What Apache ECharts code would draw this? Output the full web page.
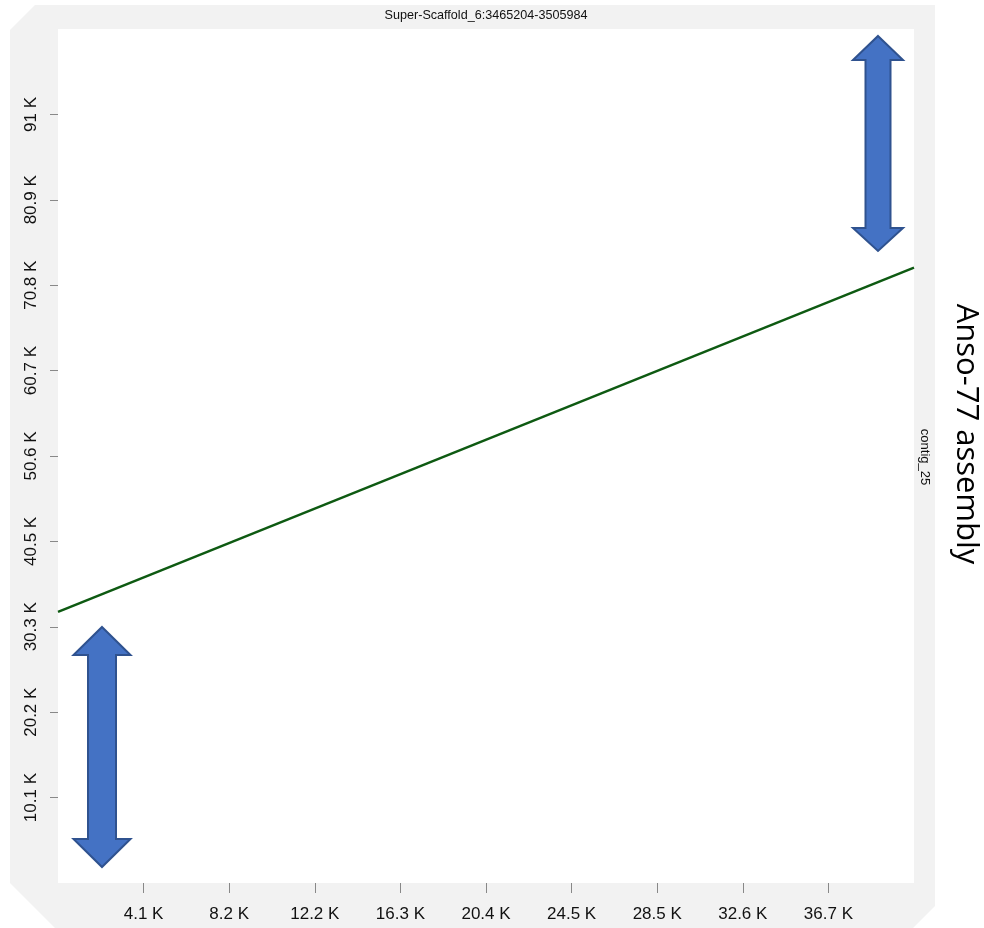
<!DOCTYPE html>
<html><head><meta charset="utf-8">
<script src="https://cdn.jsdelivr.net/npm/echarts@6/dist/echarts.min.js"></script>
<style>html,body{margin:0;padding:0;background:#fff}#c{width:984px;height:928px}</style>
</head><body><div id="c"></div><script>
// ---- data ----
const titleText = 'Super-Scaffold_6:3465204-3505984';
const contigName = 'contig_25';
const assemblyName = 'Anso-77 assembly';
const xRange = [0, 40780];
const yRange = [0, 101130];
const xTickValues = [4078, 8156, 12234, 16312, 20390, 24468, 28546, 32624, 36702];
const yTickValues = [10113, 20226, 30339, 40452, 50565, 60678, 70791, 80904, 91017];
const alignX = [0, 40780];
const alignY = [32100, 72880];

const fmt = v => (v / 1000).toFixed(1).replace(/\.0$/, '') + ' K';
const NARROW = '"Liberation Sans Narrow", "Liberation Sans", Arial, sans-serif';

const chart = echarts.init(document.getElementById('c'));
function arrow(cx, top, headBase1, headBase2, bottom, hw, sw) {
  return [[cx, top], [cx + hw, headBase1], [cx + sw, headBase1], [cx + sw, headBase2], [cx + hw, headBase2],
          [cx, bottom], [cx - hw, headBase2], [cx - sw, headBase2], [cx - sw, headBase1], [cx - hw, headBase1]];
}
chart.setOption({
  animation: false,
  backgroundColor: '#ffffff',
  grid: { left: 58, top: 29, width: 856, height: 854, show: true, backgroundColor: '#ffffff', borderWidth: 0, z: 1 },
  xAxis: {
    type: 'value', min: xRange[0], max: xRange[1],
    axisLine: { show: false },
    splitLine: { show: false },
    axisTick: { show: true, length: 10, lineStyle: { color: '#888', width: 1 }, customValues: xTickValues },
    axisLabel: { customValues: xTickValues, formatter: fmt, margin: 23, fontSize: 17, color: '#111', fontFamily: NARROW }
  },
  yAxis: {
    type: 'value', min: yRange[0], max: yRange[1],
    axisLine: { show: false },
    splitLine: { show: false },
    axisTick: { show: true, length: 8, lineStyle: { color: '#888', width: 1 }, customValues: yTickValues },
    axisLabel: { customValues: yTickValues, formatter: fmt, rotate: 90, margin: 18, fontSize: 17, color: '#111', fontFamily: NARROW }
  },
  series: [{
    type: 'line', data: alignX.map((x, i) => [x, alignY[i]]), showSymbol: false, symbol: 'none',
    lineStyle: { color: '#0e5a12', width: 2.5 }, z: 5
  }],
  graphic: [
    { type: 'polygon', z: -100, zlevel: 0, silent: true,
      shape: { points: [[35, 5], [935, 5], [935, 906], [913, 928], [55, 928], [10, 883], [10, 30]] },
      style: { fill: '#f2f2f2' } },
    { type: 'text', x: 486, y: 16, z: 50,
      style: { text: titleText, fontSize: 12.6, fontFamily: NARROW, fill: '#111', align: 'center', verticalAlign: 'middle' } },
    { type: 'text', x: 925, y: 457, rotation: -Math.PI / 2, z: 50,
      style: { text: contigName, fontSize: 13, fontFamily: NARROW, fill: '#111', align: 'center', verticalAlign: 'middle' } },
    { type: 'text', x: 966, y: 434, rotation: -Math.PI / 2, z: 50,
      style: { text: assemblyName, fontSize: 31, fontFamily: '"Open Sans", "Noto Sans", sans-serif', fill: '#000', align: 'center', verticalAlign: 'middle' } },
    { type: 'polygon', z: 100,
      shape: { points: arrow(102, 627, 655, 839, 867, 28.5, 14) },
      style: { fill: '#4472C4', stroke: '#2F528F', lineWidth: 2 } },
    { type: 'polygon', z: 100,
      shape: { points: arrow(878, 36, 60, 228, 251, 25, 12.5) },
      style: { fill: '#4472C4', stroke: '#2F528F', lineWidth: 2 } }
  ]
});
</script></body></html>
